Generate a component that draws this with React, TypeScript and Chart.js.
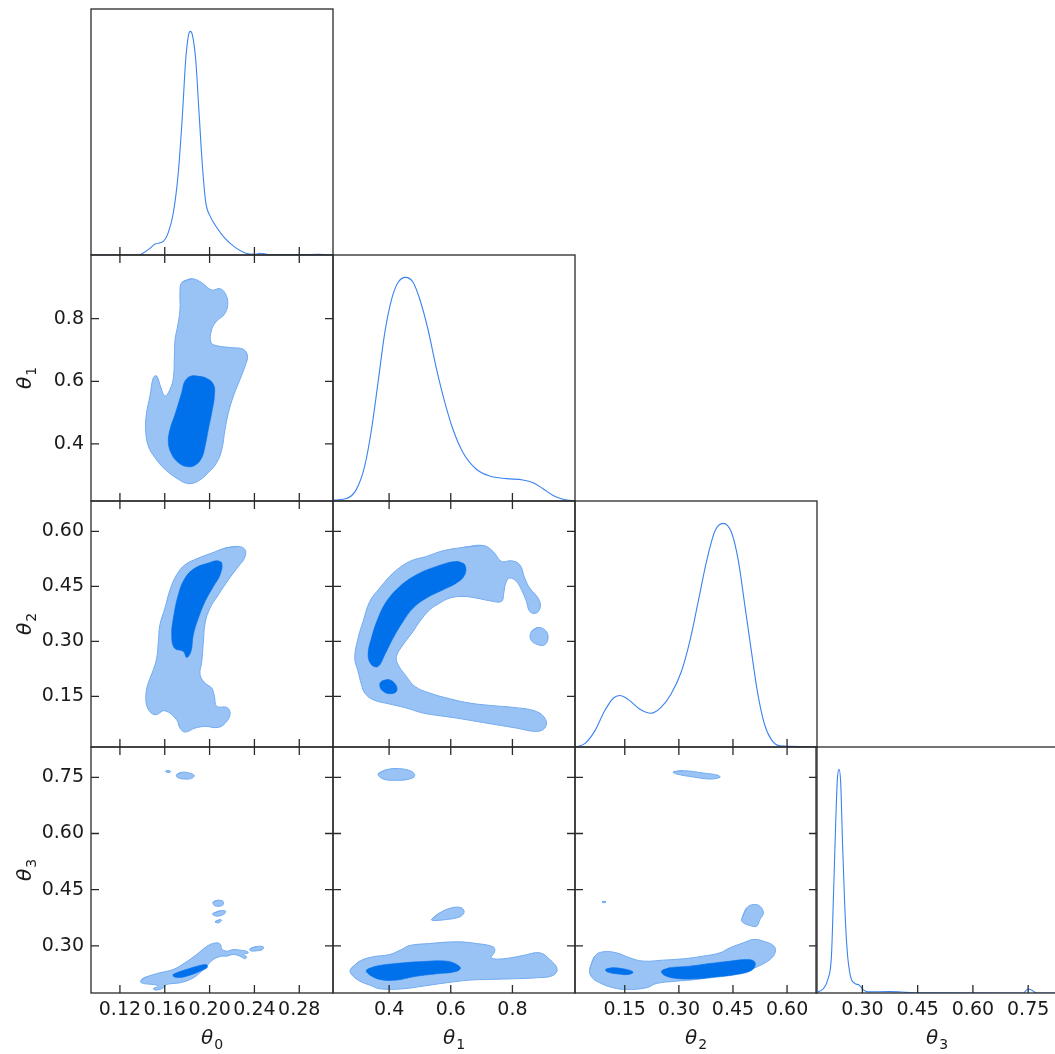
import { useEffect, useRef } from "react";
import { Chart, registerables } from "chart.js";

Chart.register(...registerables);

// ---------- axis ranges, ticks and labels ----------
const theta0Range = [0.0942, 0.3101];
const theta1Range = [0.218, 1.003];
const theta2Range = [0.012, 0.683];
const theta3Range = [0.174, 0.831];

const theta0Ticks = [0.12, 0.16, 0.2, 0.24, 0.28];
const theta0TickLabels = ["0.12", "0.16", "0.20", "0.24", "0.28"];
const theta1Ticks = [0.4, 0.6, 0.8];
const theta1TickLabels = ["0.4", "0.6", "0.8"];
const theta2Ticks = [0.15, 0.3, 0.45, 0.6];
const theta2TickLabels = ["0.15", "0.30", "0.45", "0.60"];
const theta3Ticks = [0.3, 0.45, 0.6, 0.75];
const theta3TickLabels = ["0.30", "0.45", "0.60", "0.75"];

const paramSubscripts = ["0", "1", "2", "3"];

// ---------- 1D marginal densities (normalised, peak = 1) ----------
const theta0MarginalX = [0.0942, 0.1364, 0.1408, 0.1468, 0.1513, 0.1587, 0.1632, 0.1677, 0.1721, 0.1757, 0.1787, 0.181, 0.1828, 0.1846, 0.1876, 0.1906, 0.1936, 0.1966, 0.2004, 0.2064, 0.2138, 0.2228, 0.2317, 0.2406, 0.2451, 0.2525, 0.2824, 0.2972, 0.3101];
const theta0MarginalY = [0, 0, 0.009, 0.03, 0.049, 0.061, 0.101, 0.19, 0.369, 0.621, 0.874, 0.978, 1.0, 0.985, 0.874, 0.636, 0.398, 0.235, 0.175, 0.123, 0.074, 0.034, 0.009, 0.003, 0.008, 0.002, 0.002, 0.003, 0];

const theta1MarginalX = [0.218, 0.224, 0.262, 0.294, 0.321, 0.343, 0.364, 0.386, 0.408, 0.429, 0.454, 0.478, 0.4995, 0.526, 0.554, 0.581, 0.607, 0.64, 0.683, 0.726, 0.781, 0.834, 0.867, 0.899, 0.932, 0.964, 0.986, 1.003];
const theta1MarginalY = [0.002, 0.004, 0.011, 0.052, 0.157, 0.321, 0.529, 0.753, 0.902, 0.977, 1.0, 0.977, 0.902, 0.768, 0.589, 0.44, 0.321, 0.216, 0.142, 0.112, 0.1, 0.094, 0.082, 0.055, 0.025, 0.008, 0.003, 0.001];

const theta2MarginalX = [0.012, 0.039, 0.067, 0.094, 0.118, 0.136, 0.159, 0.192, 0.222, 0.25, 0.278, 0.3075, 0.3306, 0.354, 0.377, 0.4, 0.423, 0.446, 0.465, 0.4825, 0.501, 0.519, 0.5375, 0.556, 0.5806, 0.645, 0.683];
const theta2MarginalY = [0, 0.015, 0.072, 0.161, 0.218, 0.23, 0.213, 0.169, 0.151, 0.176, 0.236, 0.34, 0.474, 0.653, 0.832, 0.966, 1.0, 0.959, 0.832, 0.638, 0.429, 0.236, 0.101, 0.034, 0.005, 0.002, 0];

const theta3MarginalX = [0.174, 0.193, 0.2065, 0.216, 0.222, 0.2275, 0.232, 0.2365, 0.241, 0.2457, 0.252, 0.259, 0.2674, 0.279, 0.291, 0.3017, 0.315, 0.374, 0.42, 0.447, 0.7365, 0.75, 0.759, 0.773, 0.831];
const theta3MarginalY = [0.003, 0.018, 0.063, 0.167, 0.464, 0.762, 0.956, 1.0, 0.941, 0.688, 0.39, 0.182, 0.077, 0.043, 0.036, 0.015, 0.005, 0.006, 0.003, 0.001, 0, 0.018, 0.013, 0, 0];

// ---------- 2D contours (68% inner, 95% outer), [x, y] in data units ----------
// θ1 vs θ0
const contour10Outer = [[0.1751, 0.9146], [0.184, 0.9274], [0.193, 0.9146], [0.2019, 0.8912], [0.2094, 0.8955], [0.2144, 0.8774], [0.2162, 0.8455], [0.2132, 0.8136], [0.2064, 0.7923], [0.2019, 0.7658], [0.2013, 0.7232], [0.2079, 0.7126], [0.2198, 0.7073], [0.2302, 0.702], [0.2338, 0.6807], [0.2317, 0.6488], [0.2272, 0.6063], [0.2213, 0.5531], [0.2168, 0.4999], [0.2138, 0.4468], [0.2109, 0.383], [0.2064, 0.3405], [0.1989, 0.3086], [0.19, 0.282], [0.1811, 0.2735], [0.1721, 0.2873], [0.1602, 0.3192], [0.1513, 0.3564], [0.1453, 0.3936], [0.1429, 0.4468], [0.1438, 0.4999], [0.1468, 0.5531], [0.1498, 0.6116], [0.1528, 0.6169], [0.1566, 0.5797], [0.1602, 0.5531], [0.1647, 0.5744], [0.1677, 0.6116], [0.1686, 0.6807], [0.1692, 0.7339], [0.1715, 0.7764], [0.1736, 0.8296], [0.1736, 0.8827]];
const contour10Inner = [[0.184, 0.6169], [0.196, 0.6116], [0.2034, 0.5903], [0.2043, 0.5531], [0.2019, 0.4999], [0.1989, 0.4468], [0.196, 0.3936], [0.193, 0.3564], [0.187, 0.332], [0.1796, 0.3277], [0.1721, 0.3405], [0.1662, 0.367], [0.1632, 0.4043], [0.1647, 0.4468], [0.1692, 0.4946], [0.1751, 0.5637], [0.1781, 0.601]];

// θ2 vs θ0
const contour20Outer = [[0.2138, 0.5545], [0.2257, 0.5591], [0.2317, 0.55], [0.2311, 0.5273], [0.2257, 0.5045], [0.2168, 0.4682], [0.2079, 0.4273], [0.2004, 0.3909], [0.196, 0.35], [0.1945, 0.3], [0.193, 0.2455], [0.1915, 0.2091], [0.196, 0.1864], [0.2019, 0.1727], [0.2043, 0.15], [0.2064, 0.1227], [0.2153, 0.12], [0.2183, 0.1045], [0.2153, 0.0818], [0.2079, 0.0655], [0.196, 0.0682], [0.187, 0.0636], [0.1781, 0.0527], [0.1736, 0.0636], [0.1706, 0.0864], [0.1602, 0.1109], [0.1513, 0.1], [0.1447, 0.1182], [0.1432, 0.1545], [0.1453, 0.1864], [0.1498, 0.2227], [0.1528, 0.2545], [0.1543, 0.2982], [0.1557, 0.3455], [0.1602, 0.3909], [0.1647, 0.4409], [0.1706, 0.4818], [0.1781, 0.5091], [0.19, 0.5273], [0.2019, 0.5409]];
const contour20Inner = [[0.2064, 0.52], [0.2109, 0.5136], [0.2094, 0.4818], [0.2034, 0.45], [0.196, 0.4091], [0.19, 0.3636], [0.1855, 0.3182], [0.1834, 0.2727], [0.1796, 0.2564], [0.1766, 0.2727], [0.1686, 0.2818], [0.1662, 0.3182], [0.1677, 0.3636], [0.1721, 0.4273], [0.1781, 0.4727], [0.187, 0.5], [0.1989, 0.5136]];

// θ2 vs θ1
const contour21Outer = [[0.64, 0.5564], [0.7049, 0.5618], [0.7373, 0.5455], [0.7643, 0.5182], [0.7968, 0.52], [0.8238, 0.5091], [0.84, 0.4727], [0.8562, 0.4455], [0.8832, 0.4182], [0.8908, 0.3955], [0.8778, 0.3773], [0.8562, 0.3818], [0.8454, 0.4091], [0.8292, 0.4409], [0.813, 0.4636], [0.7914, 0.4727], [0.7784, 0.4591], [0.7719, 0.4318], [0.7643, 0.4091], [0.7265, 0.4109], [0.6832, 0.4182], [0.64, 0.4227], [0.5968, 0.4182], [0.5643, 0.4045], [0.5319, 0.3864], [0.4995, 0.3545], [0.4778, 0.3273], [0.4454, 0.2909], [0.4238, 0.2591], [0.4292, 0.2364], [0.4562, 0.2045], [0.4832, 0.1773], [0.5319, 0.1591], [0.5968, 0.1436], [0.6616, 0.1318], [0.7265, 0.1255], [0.8022, 0.12], [0.8778, 0.1091], [0.9081, 0.0864], [0.9049, 0.0636], [0.8778, 0.0545], [0.813, 0.0636], [0.7481, 0.0727], [0.6832, 0.0818], [0.6184, 0.0909], [0.5643, 0.0973], [0.5103, 0.1045], [0.4562, 0.1182], [0.4022, 0.1291], [0.3481, 0.1409], [0.3211, 0.1591], [0.3103, 0.1818], [0.2995, 0.2182], [0.2886, 0.2545], [0.2995, 0.3091], [0.3157, 0.3545], [0.3373, 0.4091], [0.3697, 0.4455], [0.413, 0.4864], [0.467, 0.5182], [0.5211, 0.5318], [0.5751, 0.5473]];
const contour21OuterIsland = [[0.8616, 0.3273], [0.8832, 0.3382], [0.9081, 0.3291], [0.9157, 0.3091], [0.9049, 0.2909], [0.8832, 0.2909], [0.8595, 0.3045]];
const contour21Inner = [[0.6184, 0.5182], [0.6454, 0.5091], [0.6454, 0.4818], [0.6184, 0.4591], [0.5751, 0.4409], [0.5211, 0.4182], [0.4778, 0.3909], [0.4454, 0.3545], [0.413, 0.3091], [0.3859, 0.2636], [0.3643, 0.2318], [0.3427, 0.2364], [0.3319, 0.2636], [0.3427, 0.3091], [0.3643, 0.3636], [0.3914, 0.4091], [0.4346, 0.45], [0.4886, 0.4818], [0.5535, 0.5045]];
const contour21InnerIsland = [[0.3751, 0.1909], [0.4, 0.1955], [0.4216, 0.1818], [0.4238, 0.1636], [0.4022, 0.1573], [0.3784, 0.1655], [0.3697, 0.18]];

// θ3 vs θ0
const contour30Outer = [[0.1393, 0.2102], [0.1438, 0.2173], [0.1557, 0.228], [0.1676, 0.2369], [0.178, 0.2546], [0.1884, 0.2769], [0.1988, 0.3009], [0.2063, 0.308], [0.2098, 0.3036], [0.2107, 0.292], [0.2152, 0.2858], [0.2211, 0.2902], [0.2271, 0.2884], [0.233, 0.2858], [0.2345, 0.2813], [0.2301, 0.2769], [0.233, 0.2707], [0.2315, 0.2653], [0.2271, 0.2724], [0.2211, 0.2769], [0.2152, 0.2724], [0.2107, 0.2724], [0.2033, 0.2635], [0.1973, 0.2457], [0.1914, 0.228], [0.184, 0.212], [0.1735, 0.2013], [0.1616, 0.1968], [0.1587, 0.1879], [0.1527, 0.1817], [0.1497, 0.1853], [0.1542, 0.1924], [0.1497, 0.1968], [0.1423, 0.1986], [0.1384, 0.2031]];
const contour30OuterBlobA = [[0.236, 0.292], [0.242, 0.2982], [0.2479, 0.2973], [0.2473, 0.2902], [0.242, 0.2867], [0.2366, 0.2867]];
const contour30OuterBlobB = [[0.1706, 0.7571], [0.175, 0.7634], [0.1819, 0.7616], [0.1863, 0.7553], [0.184, 0.7473], [0.1771, 0.7456], [0.1712, 0.75]];
const contour30OuterBlobC = [[0.161, 0.7669], [0.164, 0.7678], [0.1652, 0.7642], [0.1616, 0.7634]];
const contour30OuterBlobD = [[0.2033, 0.4174], [0.2077, 0.4218], [0.2122, 0.4183], [0.2116, 0.4085], [0.2063, 0.4058], [0.2033, 0.4103]];
const contour30OuterBlobE = [[0.2027, 0.3854], [0.2092, 0.3934], [0.2143, 0.3925], [0.2128, 0.3845], [0.2063, 0.3792]];
const contour30OuterBlobF = [[0.2048, 0.364], [0.2092, 0.3703], [0.2107, 0.3676], [0.2077, 0.3614]];
const contour30Inner = [[0.1676, 0.2235], [0.1795, 0.2369], [0.1914, 0.2475], [0.1973, 0.2493], [0.1979, 0.2422], [0.1914, 0.2324], [0.1825, 0.2217], [0.1735, 0.2155], [0.1682, 0.2173]];

// θ3 vs θ1
const contour31Outer = [[0.2746, 0.2369], [0.3049, 0.2591], [0.3481, 0.2707], [0.4022, 0.2769], [0.44, 0.2902], [0.467, 0.3009], [0.5319, 0.3062], [0.6184, 0.3107], [0.6832, 0.3062], [0.7373, 0.2973], [0.7427, 0.2858], [0.7319, 0.268], [0.7697, 0.2653], [0.8346, 0.2742], [0.8886, 0.2813], [0.9211, 0.2635], [0.9449, 0.2386], [0.9319, 0.2208], [0.8778, 0.2146], [0.8022, 0.212], [0.7265, 0.2102], [0.6616, 0.2084], [0.5859, 0.2013], [0.5103, 0.1924], [0.4454, 0.1853], [0.3697, 0.1853], [0.3373, 0.1951], [0.3049, 0.2057], [0.2778, 0.2235]];
const contour31OuterMid = [[0.5373, 0.3703], [0.5643, 0.388], [0.6022, 0.4014], [0.6346, 0.4014], [0.6432, 0.3898], [0.6292, 0.3774], [0.5859, 0.3703], [0.5427, 0.3676]];
const contour31OuterTop = [[0.3643, 0.7589], [0.3914, 0.7705], [0.4346, 0.7731], [0.4724, 0.766], [0.4832, 0.7545], [0.467, 0.7456], [0.4238, 0.742], [0.3805, 0.7456]];
const contour31Inner = [[0.3265, 0.2351], [0.3589, 0.2457], [0.4238, 0.2529], [0.5103, 0.2582], [0.5859, 0.2591], [0.613, 0.2529], [0.6314, 0.2404], [0.613, 0.2306], [0.5535, 0.2253], [0.4778, 0.2173], [0.4238, 0.2084], [0.3697, 0.2102], [0.3351, 0.2235]];

// θ3 vs θ2
const contour32Outer = [[0.0528, 0.2369], [0.0667, 0.2724], [0.0898, 0.284], [0.1269, 0.2813], [0.1639, 0.268], [0.2009, 0.2591], [0.2565, 0.2618], [0.312, 0.2653], [0.3676, 0.2724], [0.4139, 0.2813], [0.4417, 0.2947], [0.4787, 0.308], [0.5065, 0.3169], [0.5343, 0.3125], [0.5639, 0.2991], [0.5667, 0.2813], [0.5528, 0.2635], [0.525, 0.2475], [0.4972, 0.2369], [0.4602, 0.228], [0.4046, 0.2191], [0.3491, 0.2102], [0.2935, 0.2057], [0.238, 0.1995], [0.2102, 0.1879], [0.1546, 0.1835], [0.1176, 0.1879], [0.0806, 0.2013], [0.0574, 0.2173]];
const contour32OuterRight = [[0.4741, 0.3703], [0.488, 0.4014], [0.5065, 0.4103], [0.525, 0.4058], [0.5343, 0.388], [0.525, 0.3703], [0.5157, 0.3525], [0.4972, 0.3543], [0.4787, 0.3614]];
const contour32OuterTop = [[0.2843, 0.7643], [0.312, 0.7678], [0.3676, 0.7616], [0.4093, 0.7553], [0.4139, 0.75], [0.3861, 0.7456], [0.3398, 0.7509], [0.2935, 0.7589]];
const contour32OuterDot = [[0.088, 0.4183], [0.0972, 0.4183], [0.0972, 0.4156], [0.088, 0.4156]];
const contour32InnerLeft = [[0.0972, 0.2369], [0.1176, 0.2413], [0.1546, 0.2369], [0.1731, 0.2297], [0.1593, 0.2235], [0.1269, 0.2253], [0.1009, 0.2306]];
const contour32InnerRight = [[0.2519, 0.2324], [0.275, 0.2413], [0.3306, 0.2457], [0.3861, 0.2529], [0.4417, 0.2591], [0.488, 0.2635], [0.5083, 0.2591], [0.5111, 0.2457], [0.4972, 0.2324], [0.4602, 0.2235], [0.4046, 0.2164], [0.3491, 0.212], [0.2935, 0.2128], [0.2611, 0.2208]];

// ---------- styling ----------
const FONT = "'DejaVu Sans', sans-serif";
const TEXT = "#1a1a1a";
const FRAME = "#2a2a2a";
const LINE = "#3a83ef";
const LIGHT = "#99c3f5";
const LIGHT_EDGE = "#72abf0";
const DARK = "#0070eb";

const COL_X = [91, 333, 575, 816];
const ROW_Y = [9, 255, 501, 747];
const CELL_W = 242;
const CELL_H = 246;
const PAD = 4;
const LEFT_AXIS_W = 91;
const BOTTOM_AXIS_H = 61;
const TICK_LEN = 8;

type Var = { range: number[]; ticks: number[]; labels: string[] };
const VARS: Var[] = [
  { range: theta0Range, ticks: theta0Ticks, labels: theta0TickLabels },
  { range: theta1Range, ticks: theta1Ticks, labels: theta1TickLabels },
  { range: theta2Range, ticks: theta2Ticks, labels: theta2TickLabels },
  { range: theta3Range, ticks: theta3Ticks, labels: theta3TickLabels },
];

const marginal = (xs: number[], ys: number[]) => ({
  data: xs.map((x, i) => ({ x, y: ys[i] })),
  borderColor: LINE,
  borderWidth: 1.1,
  pointRadius: 0,
  fill: false,
  cubicInterpolationMode: "monotone",
});

const region = (pts: number[][], inner: boolean) => ({
  data: pts.concat([pts[0], pts[1]]).map(([x, y]) => ({ x, y })),
  backgroundColor: inner ? DARK : LIGHT,
  borderColor: inner ? DARK : LIGHT_EDGE,
  borderWidth: inner ? 0.6 : 1,
  pointRadius: 0,
  tension: 0.4,
  fill: "shape",
  order: inner ? 1 : 2,
});

type Panel = { row: number; col: number; datasets: any[] };
const PANELS: Panel[] = [
  { row: 0, col: 0, datasets: [marginal(theta0MarginalX, theta0MarginalY)] },
  { row: 1, col: 0, datasets: [region(contour10Outer, false), region(contour10Inner, true)] },
  { row: 1, col: 1, datasets: [marginal(theta1MarginalX, theta1MarginalY)] },
  { row: 2, col: 0, datasets: [region(contour20Outer, false), region(contour20Inner, true)] },
  { row: 2, col: 1, datasets: [region(contour21Outer, false), region(contour21OuterIsland, false), region(contour21Inner, true), region(contour21InnerIsland, true)] },
  { row: 2, col: 2, datasets: [marginal(theta2MarginalX, theta2MarginalY)] },
  {
    row: 3, col: 0, datasets: [
      region(contour30Outer, false), region(contour30OuterBlobA, false), region(contour30OuterBlobB, false),
      region(contour30OuterBlobC, false), region(contour30OuterBlobD, false), region(contour30OuterBlobE, false),
      region(contour30OuterBlobF, false), region(contour30Inner, true),
    ],
  },
  { row: 3, col: 1, datasets: [region(contour31Outer, false), region(contour31OuterMid, false), region(contour31OuterTop, false), region(contour31Inner, true)] },
  {
    row: 3, col: 2, datasets: [
      region(contour32Outer, false), region(contour32OuterRight, false), region(contour32OuterTop, false),
      region(contour32OuterDot, false), region(contour32InnerLeft, true), region(contour32InnerRight, true),
    ],
  },
  { row: 3, col: 3, datasets: [marginal(theta3MarginalX, theta3MarginalY)] },
];

function geom(p: Panel) {
  const labelY = p.col === 0 && p.row !== p.col;
  const labelX = p.row === 3;
  const left = labelY ? COL_X[0] - LEFT_AXIS_W : COL_X[p.col] - PAD;
  const top = ROW_Y[p.row] - PAD;
  const w = (labelY ? LEFT_AXIS_W : PAD) + CELL_W + PAD;
  const h = PAD + CELL_H + (labelX ? BOTTOM_AXIS_H : PAD);
  return { labelX, labelY, left, top, w, h };
}

function drawTheta(ctx: CanvasRenderingContext2D, cx: number, baseline: number, sub: string) {
  ctx.font = `italic 20px ${FONT}`;
  const wT = ctx.measureText("θ").width;
  ctx.font = `14px ${FONT}`;
  const wS = ctx.measureText(sub).width;
  const x0 = cx - (wT + 1 + wS) / 2;
  ctx.textAlign = "left";
  ctx.textBaseline = "alphabetic";
  ctx.fillStyle = TEXT;
  ctx.font = `italic 20px ${FONT}`;
  ctx.fillText("θ", x0, baseline);
  ctx.font = `14px ${FONT}`;
  ctx.fillText(sub, x0 + wT + 1, baseline + 5);
}

function makeFramePlugin(p: Panel) {
  const diag = p.row === p.col;
  const xv = VARS[p.col];
  const yv = VARS[p.row];
  const g = geom(p);
  return {
    id: "cornerFrame",
    afterDatasetsDraw(chart: any) {
      const { ctx, chartArea: a } = chart;
      const xs = chart.scales.x;
      const ys = chart.scales.y;
      ctx.save();
      ctx.strokeStyle = FRAME;
      ctx.lineWidth = 1.3;
      ctx.strokeRect(a.left, a.top, a.right - a.left, a.bottom - a.top);
      ctx.beginPath();
      for (const v of xv.ticks) {
        const px = xs.getPixelForValue(v);
        ctx.moveTo(px, a.bottom);
        ctx.lineTo(px, a.bottom - TICK_LEN);
        if (!diag) {
          ctx.moveTo(px, a.top);
          ctx.lineTo(px, a.top + TICK_LEN);
        }
      }
      if (!diag) {
        for (const v of yv.ticks) {
          const py = ys.getPixelForValue(v);
          ctx.moveTo(a.left, py);
          ctx.lineTo(a.left + TICK_LEN, py);
          ctx.moveTo(a.right, py);
          ctx.lineTo(a.right - TICK_LEN, py);
        }
      }
      ctx.stroke();
      ctx.restore();
    },
    afterDraw(chart: any) {
      const { ctx, chartArea: a } = chart;
      ctx.save();
      if (g.labelX) {
        drawTheta(ctx, (a.left + a.right) / 2, a.bottom + 51, paramSubscripts[p.col]);
      }
      if (g.labelY) {
        ctx.translate(31, (a.top + a.bottom) / 2);
        ctx.rotate(-Math.PI / 2);
        drawTheta(ctx, 0, 0, paramSubscripts[p.row]);
      }
      ctx.restore();
    },
  };
}

function buildConfig(p: Panel): any {
  const diag = p.row === p.col;
  const xv = VARS[p.col];
  const yv = VARS[p.row];
  const g = geom(p);
  const tickFont = { family: FONT, size: 19 };
  return {
    type: "line",
    data: { datasets: p.datasets },
    options: {
      responsive: false,
      maintainAspectRatio: false,
      animation: false,
      devicePixelRatio: 1,
      events: [],
      layout: {
        padding: { left: g.labelY ? 0 : PAD, right: PAD, top: PAD, bottom: g.labelX ? 0 : PAD },
      },
      plugins: { legend: { display: false }, tooltip: { enabled: false } },
      scales: {
        x: {
          type: "linear",
          position: "bottom",
          min: xv.range[0],
          max: xv.range[1],
          afterBuildTicks: (s: any) => {
            s.ticks = xv.ticks.map((v) => ({ value: v }));
          },
          afterFit: (s: any) => {
            s.height = g.labelX ? BOTTOM_AXIS_H : 0;
            s.paddingLeft = 0;
            s.paddingRight = 0;
            s.paddingTop = 0;
            s.paddingBottom = 0;
          },
          grid: { display: false, drawTicks: false },
          border: { display: false },
          ticks: {
            display: g.labelX,
            padding: 6,
            color: TEXT,
            font: tickFont,
            autoSkip: false,
            maxRotation: 0,
            minRotation: 0,
            callback: (_v: any, i: number) => xv.labels[i],
          },
        },
        y: {
          type: "linear",
          position: "left",
          min: diag ? 0 : yv.range[0],
          max: diag ? 1.1 : yv.range[1],
          afterBuildTicks: (s: any) => {
            s.ticks = diag ? [] : yv.ticks.map((v) => ({ value: v }));
          },
          afterFit: (s: any) => {
            s.width = g.labelY ? LEFT_AXIS_W : 0;
            s.paddingLeft = 0;
            s.paddingRight = 0;
            s.paddingTop = 0;
            s.paddingBottom = 0;
          },
          grid: { display: false, drawTicks: false },
          border: { display: false },
          ticks: {
            display: g.labelY,
            padding: 7,
            color: TEXT,
            font: tickFont,
            autoSkip: false,
            callback: (_v: any, i: number) => yv.labels[i],
          },
        },
      },
    },
    plugins: [makeFramePlugin(p)],
  };
}

export default function App() {
  const refs = useRef<(HTMLCanvasElement | null)[]>([]);
  useEffect(() => {
    const charts = PANELS.map((p, i) => new Chart(refs.current[i] as HTMLCanvasElement, buildConfig(p)));
    return () => charts.forEach((c) => c.destroy());
  }, []);
  return (
    <div
      style={{
        position: "absolute",
        left: 0,
        top: 0,
        width: 1055,
        height: 1054,
        overflow: "hidden",
        background: "#ffffff",
      }}
    >
      {PANELS.map((p, i) => {
        const g = geom(p);
        return (
          <canvas
            key={i}
            ref={(el) => {
              refs.current[i] = el;
            }}
            width={g.w}
            height={g.h}
            style={{ position: "absolute", left: g.left, top: g.top, width: g.w, height: g.h }}
          />
        );
      })}
    </div>
  );
}
